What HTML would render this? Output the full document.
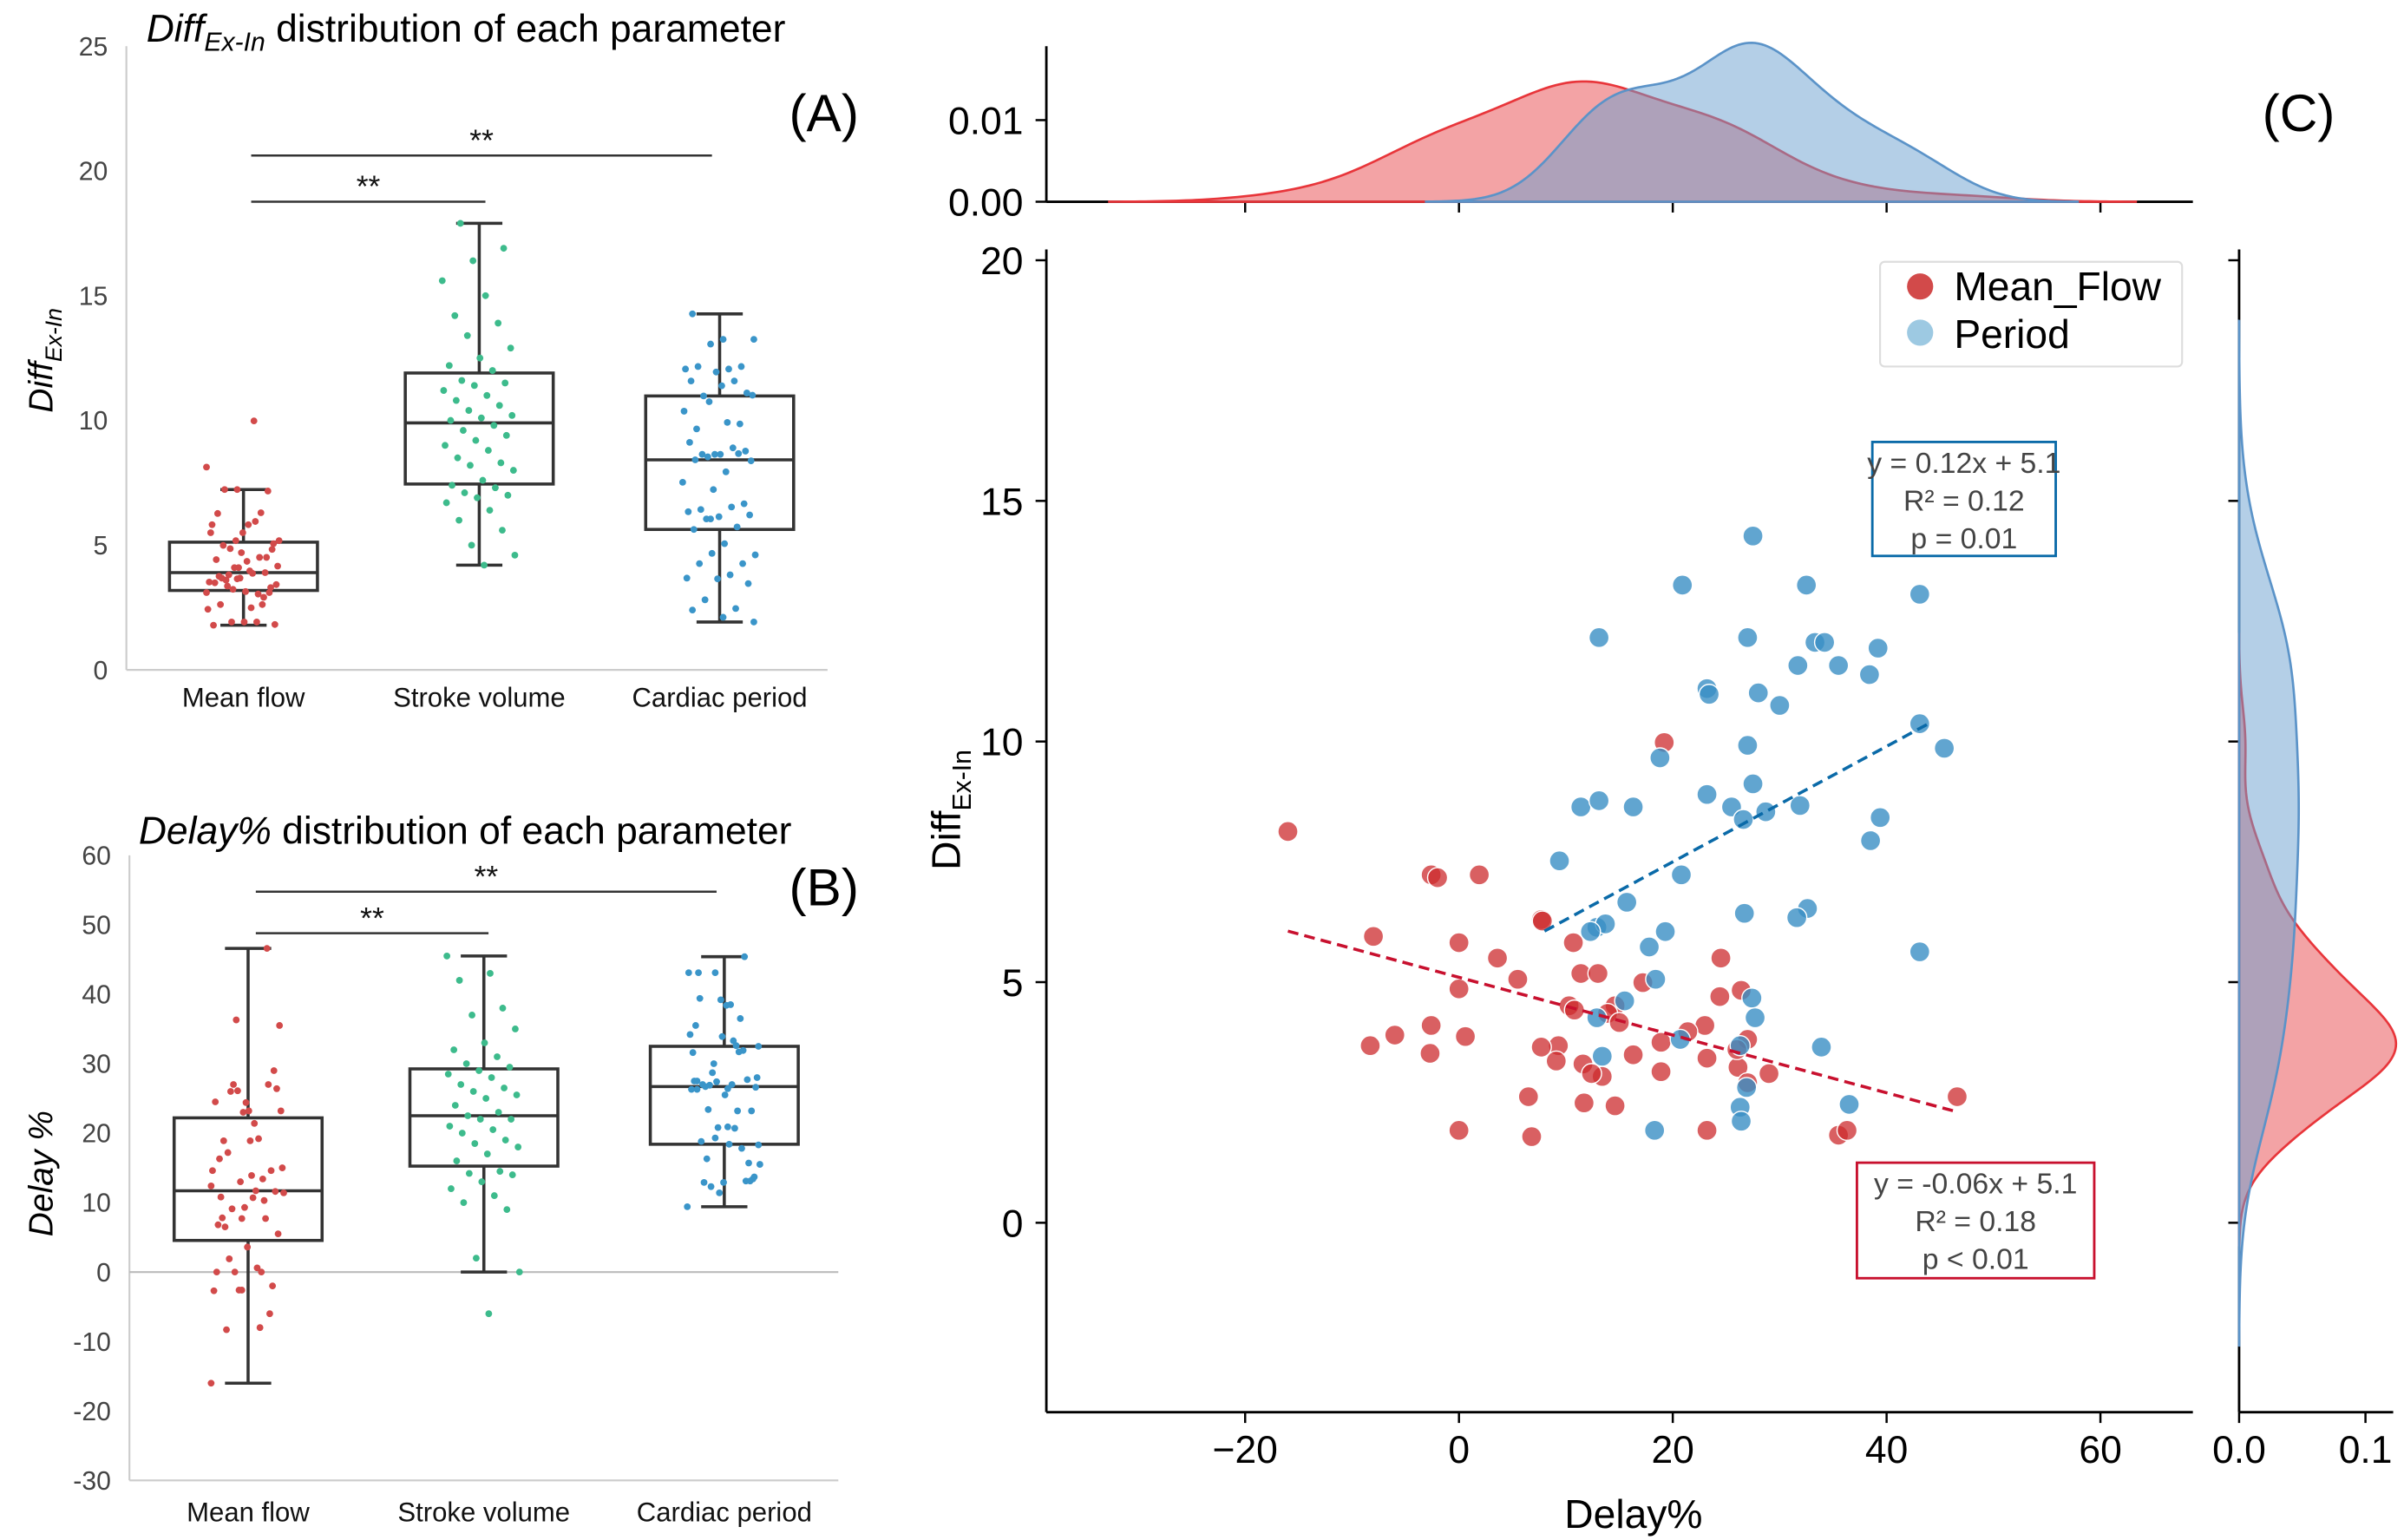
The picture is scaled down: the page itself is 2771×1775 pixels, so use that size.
<!DOCTYPE html>
<html><head><meta charset="utf-8"><style>
html,body{margin:0;padding:0;background:#fff;}
svg{display:block;font-family:"Liberation Sans",Arial,sans-serif;}
</style></head><body>
<svg id="fig" width="2771" height="1775" viewBox="0 0 1560 1000" preserveAspectRatio="none" xmlns="http://www.w3.org/2000/svg">
<rect width="1560" height="1000" fill="#fff"/>
<text x="95" y="27" font-size="25"><tspan font-style="italic">Diff</tspan><tspan font-style="italic" font-size="17" dy="6">Ex-In</tspan><tspan dy="-6"> distribution of each parameter</tspan></text>
<text x="512" y="85" font-size="34">(A)</text>
<text transform="translate(34,268) rotate(-90)" font-size="22"><tspan font-style="italic">Diff</tspan><tspan font-style="italic" font-size="15" dy="6">Ex-In</tspan></text>
<text x="90" y="548" font-size="25"><tspan font-style="italic">Delay%</tspan> distribution of each parameter</text>
<text x="512" y="588" font-size="34">(B)</text>
<text transform="translate(34,803) rotate(-90)" font-size="22" font-style="italic">Delay %</text>
<text x="1468" y="85" font-size="34">(C)</text>
<text x="1060" y="992" font-size="26" text-anchor="middle">Delay%</text>
<text transform="translate(623,565) rotate(-90)" font-size="26">Diff<tspan font-size="17" dy="7">Ex-In</tspan></text>
<g id="layer"></g>
</svg>
<script>
const redX=[-16,-2.6,-2,1.9,-8,0,3.6,5.5,0,7.7,7.8,10.7,11.4,13,14.6,17.2,19.2,24.5,24.4,26.4,27,10.3,10.8,13.9,15,-2.6,-6,-8.3,0.6,-2.7,9.3,11.6,9.1,13.4,16.3,18.9,23.2,26.1,27,6.5,11.7,14.6,23,29,26,0,6.8,23.2,35.5,36.3,46.6,18.9,21.4,12.4,7.7];
const redY=[8.13,7.23,7.17,7.23,5.95,5.82,5.5,5.06,4.86,6.3,6.27,5.82,5.18,5.18,4.51,4.99,9.98,5.5,4.7,4.83,3.81,4.51,4.42,4.35,4.16,4.1,3.9,3.68,3.87,3.52,3.68,3.3,3.36,3.04,3.49,3.14,3.42,3.23,2.91,2.62,2.49,2.43,4.1,3.1,3.6,1.92,1.79,1.92,1.82,1.92,2.62,3.75,3.97,3.1,3.65];
const blueX=[27.5,20.9,32.5,43.1,13.1,27,33.3,34.2,39.2,23.2,23.4,31.7,35.5,38.4,28,30,45.4,18.8,27,43.1,11.4,13.1,16.3,23.2,27.5,25.5,26.6,28.7,31.9,39.4,38.5,9.4,20.8,15.7,26.7,32.6,31.6,12.9,13.7,12.3,17.8,43.1,18.4,15.5,27.4,27.7,12.9,20.7,26.3,33.9,13.4,26.9,36.5,26.3,26.4,18.3,19.3];
const blueY=[14.27,13.25,13.25,13.06,12.16,12.16,12.06,12.06,11.94,11.1,10.98,11.58,11.58,11.39,11.01,10.75,9.86,9.66,9.92,10.37,8.64,8.77,8.64,8.9,9.12,8.64,8.38,8.54,8.67,8.42,7.94,7.52,7.23,6.66,6.43,6.53,6.34,6.14,6.21,6.05,5.73,5.63,5.06,4.61,4.67,4.26,4.26,3.81,3.68,3.65,3.46,2.81,2.46,2.4,2.11,1.92,6.05];
const strokeDiff=[4.2,4.6,5.0,5.6,6.0,6.4,6.7,6.9,7.0,7.1,7.3,7.4,7.6,8.0,8.2,8.3,8.5,8.8,9.0,9.2,9.4,9.6,9.8,10.0,10.1,10.2,10.4,10.6,10.8,11.0,11.2,11.4,11.5,11.6,12.0,12.2,12.5,12.9,13.4,13.9,14.2,15.0,15.6,16.4,16.9,17.9];
const strokeDelay=[-6,0,2,9,10,11,12,13,14,14.2,14.5,16,17,18,18.5,19,20,20.5,21,22,22,22.5,23,24,25,25.5,26,26.5,27,28,28.5,29,29.5,30,31,32,33,35,37,38,42,43,45.5];
const categories=["Mean flow","Stroke volume","Cardiac period"];
const ticksA=[0,5,10,15,20,25];
const ticksB=[-30,-20,-10,0,10,20,30,40,50,60];
const ticksCX=[-20,0,20,40,60];
const ticksCY=[0,5,10,15,20];
const ticksTop=[0.00,0.01];
const ticksRight=[0.0,0.1];
const fitBlue=[0.12,5.1], fitRed=[-0.06,5.1];

const NS="http://www.w3.org/2000/svg";
const layer=document.getElementById('layer');
function mk(tag,attrs,parent){const e=document.createElementNS(NS,tag);for(const k in attrs)e.setAttribute(k,attrs[k]);(parent||layer).appendChild(e);return e;}
function txt(x,y,s,size,anchor,fill){const t=mk('text',{x:x,y:y,'font-size':size,'text-anchor':anchor||'middle',fill:fill||'#000'});t.textContent=s;return t;}
function quant(a,q){const s=[...a].sort((x,y)=>x-y);const p=(s.length-1)*q;const i=Math.floor(p);return s[i]+(s[Math.min(i+1,s.length-1)]-s[i])*(p-i);}
function jit(i){return (((i*7919)%53)/53-0.5)*48;}

const colors=["#d24a4a","#3dbb8c","#3a95c9"];
function boxPanel(cfg){
  const ys=cfg.y;
  const ax=mk('line',{x1:cfg.x0,y1:ys(cfg.ticks[0]),x2:cfg.x0,y2:ys(cfg.ticks[cfg.ticks.length-1]),stroke:'#ccc','stroke-width':1.2});
  
  
  const bx=mk('line',{x1:cfg.x0,y1:ys(cfg.ticks[0]),x2:cfg.x1,y2:ys(cfg.ticks[0]),stroke:'#ccc','stroke-width':1.2});
  
  
  if(cfg.zero){const z=mk('line',{x1:cfg.x0,y1:ys(0),x2:cfg.x1,y2:ys(0),stroke:'#bbb','stroke-width':1.2});
    
    }
  cfg.ticks.forEach(t=>{const l=txt(cfg.x0-12,ys(t)+6,String(t),17,'end','#444');
    
    });
  cfg.data.forEach((d,k)=>{
    const c=cfg.cx[k];
    const q1=quant(d,0.25),q3=quant(d,0.75),med=quant(d,0.5),iqr=q3-q1;
    const lo=Math.min(...d.filter(v=>v>=q1-1.5*iqr)),hi=Math.max(...d.filter(v=>v<=q3+1.5*iqr));
    const g=mk('g',{});
    
    
    mk('line',{x1:c,y1:ys(hi),x2:c,y2:ys(q3),stroke:'#333','stroke-width':2},g);
    mk('line',{x1:c,y1:ys(q1),x2:c,y2:ys(lo),stroke:'#333','stroke-width':2},g);
    mk('line',{x1:c-15,y1:ys(hi),x2:c+15,y2:ys(hi),stroke:'#333','stroke-width':2},g);
    mk('line',{x1:c-15,y1:ys(lo),x2:c+15,y2:ys(lo),stroke:'#333','stroke-width':2},g);
    mk('rect',{x:c-48,y:ys(q3),width:96,height:ys(q1)-ys(q3),fill:'none',stroke:'#333','stroke-width':2},g);
    mk('line',{x1:c-48,y1:ys(med),x2:c+48,y2:ys(med),stroke:'#333','stroke-width':2},g);
    d.forEach((v,i)=>{const p=mk('circle',{cx:c+jit(i+k*11),cy:ys(v),r:2.2,fill:colors[k]});
      
      });
    const l=txt(c,cfg.labY,categories[k],17.5,'middle','#111');
    
    
  });
  cfg.sig.forEach(s=>{const l=mk('line',{x1:s[0],y1:s[2],x2:s[1],y2:s[2],stroke:'#333','stroke-width':1.4});
    
    
    const t=txt((s[0]+s[1])/2,s[2]-3,'**',20,'middle','#111');
    
    });
}
boxPanel({name:'panel-a',y:v=>435-v*16.2,x0:82,x1:537,ticks:ticksA,cx:[158,311,467],data:[redY,strokeDiff,blueY],labY:459,
  sig:[[163,462,101],[163,315,131]]});
boxPanel({name:'panel-b',y:v=>826-v*4.51,x0:84,x1:544,ticks:ticksB,zero:true,cx:[161,314,470],data:[redX,strokeDelay,blueX],labY:988,
  sig:[[166,465,579],[166,317,606]]});

const cx=v=>946.75+v*6.9375, cy=v=>794-v*31.25;
const ty=d=>131-d*5300, rx=d=>1453+d*820;
function axLine(x1,y1,x2,y2,name){const l=mk('line',{x1,y1,x2,y2,stroke:'#000','stroke-width':1.6});
  
  }
axLine(679,162,679,917,'y-axis-line');
axLine(679,917,1423,917,'x-axis-line');
axLine(679,30,679,131,'top-marginal-y-axis');
axLine(679,131,1423,131,'top-marginal-baseline');
axLine(1453,162,1453,917,'right-marginal-baseline');
axLine(1453,917,1553,917,'right-marginal-x-axis');
ticksCX.forEach(t=>{mk('line',{x1:cx(t),y1:917,x2:cx(t),y2:924,stroke:'#000','stroke-width':1.4});
  mk('line',{x1:cx(t),y1:131,x2:cx(t),y2:138,stroke:'#000','stroke-width':1.4});
  const l=txt(cx(t),950,String(t).replace('-','\u2212'),25);
  
  });
ticksCY.forEach(t=>{mk('line',{x1:672,y1:cy(t),x2:679,y2:cy(t),stroke:'#000','stroke-width':1.4});
  mk('line',{x1:1446,y1:cy(t),x2:1453,y2:cy(t),stroke:'#000','stroke-width':1.4});
  const l=txt(664,cy(t)+9,String(t),25,'end');
  
  });
ticksTop.forEach(t=>{mk('line',{x1:672,y1:ty(t),x2:679,y2:ty(t),stroke:'#000','stroke-width':1.4});
  const l=txt(664,ty(t)+9,t.toFixed(2),25,'end');
  
  });
ticksRight.forEach(t=>{mk('line',{x1:rx(t),y1:917,x2:rx(t),y2:924,stroke:'#000','stroke-width':1.4});
  const l=txt(rx(t),950,t.toFixed(1),25);
  
  });

function std(a){const m=a.reduce((s,v)=>s+v,0)/a.length;return Math.sqrt(a.reduce((s,v)=>s+(v-m)*(v-m),0)/(a.length-1));}
function kde(a,w){const bw=std(a)*Math.pow(a.length,-0.2);const lo=Math.min(...a)-3*bw,hi=Math.max(...a)+3*bw;const pts=[];
  for(let i=0;i<=200;i++){const x=lo+(hi-lo)*i/200;let s=0;a.forEach(v=>{const z=(x-v)/bw;s+=Math.exp(-0.5*z*z);});
    pts.push([x,w*s/(a.length*bw*Math.sqrt(2*Math.PI))]);}return pts;}
const N=redX.length+blueX.length;
function drawTop(a,fill,edge,name){const p=kde(a,a.length/N);
  let d='M'+cx(p[0][0])+','+ty(0);p.forEach(q=>d+='L'+cx(q[0]).toFixed(2)+','+ty(q[1]).toFixed(2));d+='L'+cx(p[p.length-1][0])+','+ty(0)+'Z';
  const e=mk('path',{d:d,fill:fill,'fill-opacity':0.5,stroke:edge,'stroke-width':1.5});
  
  }
function drawRight(a,fill,edge,name){const p=kde(a,a.length/N);
  let d='M'+rx(0)+','+cy(p[0][0]);p.forEach(q=>d+='L'+rx(q[1]).toFixed(2)+','+cy(q[0]).toFixed(2));d+='L'+rx(0)+','+cy(p[p.length-1][0])+'Z';
  const e=mk('path',{d:d,fill:fill,'fill-opacity':0.5,stroke:edge,'stroke-width':1.5});
  
  }
drawTop(redX,'#e8474b','#e8353a','top-density-mean-flow');
drawTop(blueX,'#6a9fcf','#5b93c8','top-density-period');
drawRight(redY,'#e8474b','#e8353a','right-density-mean-flow');
drawRight(blueY,'#6a9fcf','#5b93c8','right-density-period');

redX.forEach((v,i)=>{const c=mk('circle',{cx:cx(v),cy:cy(redY[i]),r:6.5,fill:'#cc2b2e','fill-opacity':0.75,stroke:'#fff','stroke-width':0.8});
  
  });
blueX.forEach((v,i)=>{const c=mk('circle',{cx:cx(v),cy:cy(blueY[i]),r:6.5,fill:'#3a8ec4','fill-opacity':0.8,stroke:'#fff','stroke-width':0.8});
  
  });
function fit(f,xs,color,name){const a=Math.min(...xs),b=Math.max(...xs);
  const l=mk('line',{x1:cx(a),y1:cy(f[0]*a+f[1]),x2:cx(b),y2:cy(f[0]*b+f[1]),stroke:color,'stroke-width':2,'stroke-dasharray':'7,4'});
  
  }
fit(fitRed,redX,'#c8102e','fit-line-mean-flow');
fit(fitBlue,[8,44],'#0a6aa8','fit-line-period');

function ann(x,y,w,h,color,lines,name){const g=mk('g',{});
  
  
  mk('rect',{x:x,y:y,width:w,height:h,fill:'#fff',stroke:color,'stroke-width':1.6},g);
  lines.forEach((s,i)=>{const t=mk('text',{x:x+w/2,y:y+20+i*24.5,'font-size':19,'text-anchor':'middle',fill:'#444',textLength:0},g);t.removeAttribute('textLength');t.textContent=s;});}
ann(1215,287,119,74,'#0a6aa8',['y = 0.12x + 5.1','R\u00b2 = 0.12','p = 0.01'],'fit-annotation-period');
ann(1205,755,154,75,'#c8102e',['y = -0.06x + 5.1','R\u00b2 = 0.18','p < 0.01'],'fit-annotation-mean-flow');

const lg=mk('g',{});


mk('rect',{x:1220,y:170,width:196,height:68,rx:3,fill:'#fff',stroke:'#ddd','stroke-width':1.2},lg);
mk('circle',{cx:1246,cy:186,r:8.5,fill:'#d24a4a'},lg);
mk('circle',{cx:1246,cy:216,r:8.5,fill:'#9dc9e2'},lg);
const t1=mk('text',{x:1268,y:195,'font-size':26},lg);t1.textContent='Mean_Flow';
const t2=mk('text',{x:1268,y:226,'font-size':26},lg);t2.textContent='Period';
</script>
</body></html>
